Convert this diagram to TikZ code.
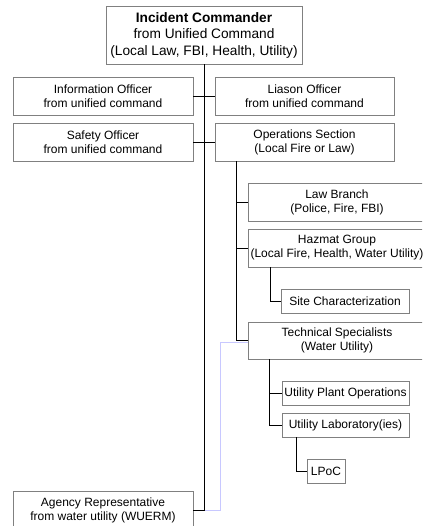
\documentclass[tikz,border=0pt]{standalone}
\usepackage{fontspec}
\setmainfont{Liberation Sans}
\usetikzlibrary{positioning,calc}
\definecolor{boxgray}{RGB}{128,128,128}
\definecolor{lilac}{RGB}{200,200,255}

\begin{document}
\begin{tikzpicture}[x=1pt,y=-1pt,
  unit/.style={draw=boxgray,fill=white,line width=0.8pt,align=center,inner sep=0pt,
    minimum width=180,minimum height=38,font=\fontsize{12}{14}\selectfont},
  small/.style={unit,minimum height=24},
  link/.style={black,line width=0.9pt}]
  \clip (0,0) rectangle (422,526);
  \fill[white] (0,0) rectangle (422,526);
  % lilac line to the water utility representative
  \draw[lilac,line width=1pt] (193,510) -- (220,510) -- (220,342) -- (248,342);
  \node[unit,minimum width=196,minimum height=58,font=\fontsize{13.7}{16.5}\selectfont]
    (cmdr) at (204,35) {\textbf{Incident Commander}\\from Unified Command\\(Local Law, FBI, Health, Utility)};
  \node[unit] (info) at (103,96) {Information Officer\\from unified command};
  \node[unit,minimum width=179] (liason) at (304.5,96) {Liason Officer\\from unified command};
  \node[unit] (safety) at (103,142) {Safety Officer\\from unified command};
  \node[unit,minimum width=179] (ops) at (304.5,142) {Operations Section\\(Local Fire or Law)};
  \node[unit,minimum width=178] (law) at (337,202) {Law Branch\\(Police, Fire, FBI)};
  \node[unit,minimum width=178] (hazmat) at (337,248) {Hazmat Group\\(Local Fire, Health, Water Utility)};
  \node[small,minimum width=128] (site) at (345,301) {Site Characterization};
  \node[unit,minimum width=178,minimum height=37] (tech) at (337,340.5) {Technical Specialists\\(Water Utility)};
  \node[small,minimum width=127] (plant) at (345.5,393.5) {Utility Plant Operations};
  \node[small,minimum width=127] (lab) at (345.5,425) {Utility Laboratory(ies)};
  \node[small,minimum width=38] (lpoc) at (326,471) {LPoC};
  \node[unit] (agency) at (103,510) {Agency Representative\\from water utility (WUERM)};
  % command staff and sections
  \draw[link] (cmdr.south) |- (agency.east);
  \draw[link] (info.east) -- (liason.west);
  \draw[link] (safety.east) -- (ops.west);
  \coordinate (opsline) at ($(ops.south west)+(22,0)$);
  \draw[link] (opsline) |- (law.west);
  \draw[link] (opsline) |- (hazmat.west);
  \draw[link] (opsline) |- (tech.west);
  \draw[link] ($(hazmat.south west)+(23,0)$) |- (site.west);
  \coordinate (techline) at ($(tech.south west)+(22,0)$);
  \draw[link] (techline) |- (plant.west);
  \draw[link] (techline) |- (lab.west);
  \draw[link] ($(lab.south west)+(15,0)$) |- (lpoc.west);
\end{tikzpicture}
\end{document}
